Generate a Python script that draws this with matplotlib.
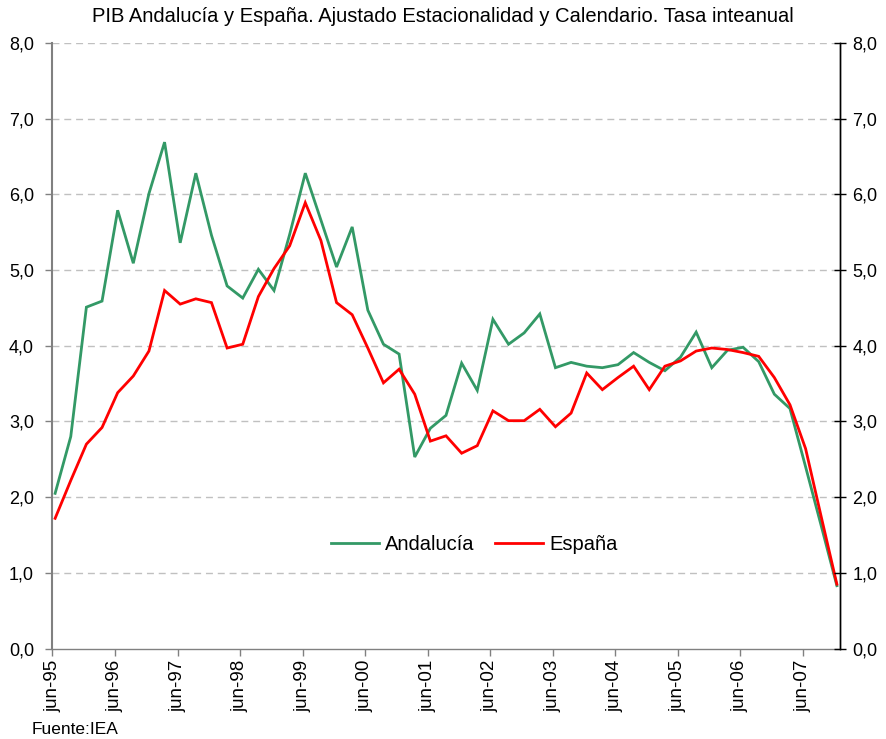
import matplotlib
matplotlib.use("Agg")
import matplotlib.pyplot as plt
import numpy as np

plt.rcParams['font.family'] = ['Liberation Sans', 'DejaVu Sans']

andalucia = [2.05, 2.80, 4.51, 4.59, 5.79, 5.09, 6.01, 6.69, 5.36, 6.28,
             5.46, 4.79, 4.63, 5.01, 4.73, 5.47, 6.28, 5.66, 5.04, 5.57,
             4.47, 4.02, 3.89, 2.53, 2.91, 3.08, 3.77, 3.41, 4.35, 4.02,
             4.17, 4.42, 3.71, 3.78, 3.73, 3.71, 3.75, 3.91, 3.78, 3.67,
             3.85, 4.18, 3.71, 3.94, 3.98, 3.79, 3.36, 3.17, 2.40, 1.62,
             0.83]
espana = [1.72, 2.22, 2.70, 2.92, 3.38, 3.60, 3.93, 4.73, 4.55, 4.62,
          4.57, 3.97, 4.02, 4.65, 5.02, 5.32, 5.89, 5.39, 4.57, 4.41,
          3.97, 3.51, 3.69, 3.36, 2.74, 2.81, 2.58, 2.68, 3.14, 3.01,
          3.01, 3.16, 2.93, 3.11, 3.64, 3.42, 3.58, 3.73, 3.42, 3.73,
          3.80, 3.93, 3.97, 3.95, 3.91, 3.86, 3.58, 3.22, 2.64, 1.74,
          0.85]
tick_labels = ['jun-95', 'jun-96', 'jun-97', 'jun-98', 'jun-99', 'jun-00',
               'jun-01', 'jun-02', 'jun-03', 'jun-04', 'jun-05', 'jun-06',
               'jun-07']
y_ticks = [0, 1, 2, 3, 4, 5, 6, 7, 8]

fig = plt.figure(figsize=(8.86, 7.39), dpi=100)
ax = fig.add_axes([52/886, 1-648.5/739, (840-52)/886, (648.5-43)/739])

x = np.arange(len(andalucia))
green = '#339966'
red = '#FF0000'
ax.plot(x, andalucia, color=green, lw=2.0, label='Andalucía', solid_joinstyle='miter', zorder=3)
ax.plot(x, espana, color=red, lw=2.0, label='España', solid_joinstyle='miter', zorder=4)

ax.set_xlim(-0.2, 50.2)
ax.set_ylim(0, 8)
ax.set_yticks(y_ticks)
ax.set_yticklabels([f"{v:.1f}".replace('.', ',') for v in y_ticks], fontsize=13)
for v in y_ticks[1:]:
    ax.axhline(v, color='#C0C0C0', lw=1.0, ls=(0, (5, 3.5)), zorder=1)

xt = [4*i - 0.17 for i in range(len(tick_labels))]
ax.set_xticks(xt)
ax.set_xticklabels(tick_labels, rotation=90, fontsize=13.5)
ax.tick_params(axis='x', direction='out', length=5, width=1, color='#808080', pad=3)
ax.tick_params(axis='y', direction='out', length=5, width=1, color='#808080', pad=8)

ax.spines['top'].set_visible(False)
ax.spines['left'].set_color('#808080')
ax.spines['left'].set_linewidth(1.5)
ax.spines['bottom'].set_color('#808080')
ax.spines['bottom'].set_linewidth(1.0)
ax.spines['right'].set_color('#000000')
ax.spines['right'].set_linewidth(1.0)

ax2 = ax.twinx()
ax2.set_ylim(0, 8)
ax2.set_yticks(y_ticks)
ax2.set_yticklabels([f"{v:.1f}".replace('.', ',') for v in y_ticks], fontsize=13)
ax2.tick_params(axis='y', direction='inout', length=8, width=1, color='#000000', pad=5)
for s in ['top', 'left', 'bottom']:
    ax2.spines[s].set_visible(False)
ax2.spines['right'].set_linewidth(1.0)

leg = ax.legend(loc='center', bbox_to_anchor=((474-52)/788, (648.5-545)/605.5),
                ncol=2, frameon=False, fontsize=14.5, handlelength=2.4,
                handletextpad=0.3, columnspacing=1.0)

fig.text(443/886, 1-17/739, 'PIB Andalucía y España. Ajustado Estacionalidad y Calendario. Tasa inteanual',
         ha='center', va='center', fontsize=14.5)
fig.text(32/886, 1-729/739, 'Fuente:IEA', ha='left', va='center', fontsize=12.5)

fig.savefig('out.png', dpi=100)
